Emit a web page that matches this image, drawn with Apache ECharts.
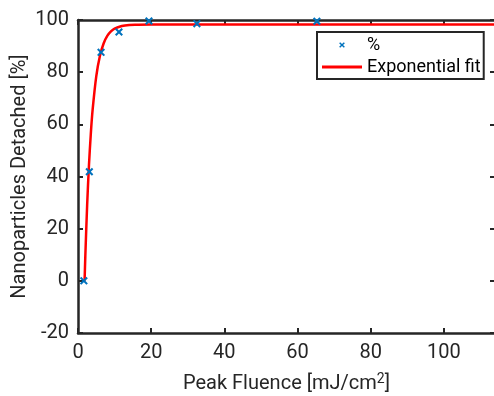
<!DOCTYPE html>
<html>
<head>
<meta charset="utf-8">
<script src="https://cdn.jsdelivr.net/npm/echarts@6/dist/echarts.min.js"></script>
<style>
  html, body { margin: 0; padding: 0; background: #fff; }
  #chart { width: 494px; height: 396px; }
</style>
</head>
<body>
<div id="chart"></div>
<script>
// measured points
const fluence = [1.6, 3.1, 6.3, 11.2, 19.4, 32.5, 65.3];
const detached = [0, 41.8, 87.6, 95.4, 99.6, 98.6, 99.5];

// exponential fit curve
const fitX = [1.8, 2, 2.5, 3, 3.5, 4, 5, 6, 7, 8, 9, 10, 12, 14, 16, 20, 30, 60, 90, 114];
const fitY = [0, 9.4, 29.0, 44.4, 56.3, 65.6, 78.5, 86.3, 91.0, 93.9, 95.6, 96.7, 97.7, 98.1, 98.2, 98.3, 98.3, 98.3, 98.3, 98.3];

const xTicks = [0, 20, 40, 60, 80, 100];
const yTicks = [-20, 0, 20, 40, 60, 80, 100];

const ink = "#262626";
const font = "Roboto";
const crossIcon = "path://M0,1.8 L1.8,0 L5,3.2 L8.2,0 L10,1.8 L6.8,5 L10,8.2 L8.2,10 L5,6.8 L1.8,10 L0,8.2 L3.2,5 Z";
// same cross, with empty margin so it draws smaller in the legend
const crossLegend = crossIcon + " M-2,-2 L-1.99,-2 L-2,-1.99 Z M12,12 L11.99,12 L12,11.99 Z";

const chart = echarts.init(document.getElementById("chart"), null, { renderer: "canvas" });

function makeAxis(extra) {
  return Object.assign({
    type: "value",
    axisLine: { show: true, onZero: false, lineStyle: { color: ink, width: 2.5 } },
    axisTick: { show: true, inside: true, length: 5, lineStyle: { color: ink, width: 2 } },
    splitLine: { show: false },
  }, extra);
}

const option = {
  animation: false,
  backgroundColor: "#fff",
  grid: { left: 78, top: 20, width: 417, height: 313, containLabel: false, outerBoundsMode: "none" },
  xAxis: [
    makeAxis({
      position: "bottom",
      min: 0,
      max: 114,
      interval: 20,
      axisLabel: {
        color: ink, fontFamily: font, fontSize: 20, margin: 10,
        formatter: (v) => (xTicks.includes(v) ? String(v) : ""),
      },
      name: "{a|Peak Fluence [mJ/cm}{s|2}{a|]}",
      nameLocation: "middle",
      nameGap: 39,
      nameMoveOverlap: false,
      nameTextStyle: {
        rich: {
          a: { color: ink, fontFamily: font, fontSize: 20 },
          s: { color: ink, fontFamily: font, fontSize: 14, verticalAlign: "top", padding: [0, 0, 10, 0] },
        },
      },
    }),
    makeAxis({
      position: "top",
      min: 0,
      max: 114,
      interval: 20,
      axisLabel: { show: false },
    }),
  ],
  yAxis: [
    makeAxis({
      position: "left",
      min: -20,
      max: 100,
      interval: 20,
      axisLabel: {
        color: ink, fontFamily: font, fontSize: 20, margin: 9,
        formatter: (v) => (yTicks.includes(v) ? String(v) : ""),
      },
      name: "Nanoparticles Detached [%]",
      nameLocation: "middle",
      nameGap: 48,
      nameMoveOverlap: false,
      nameTextStyle: { color: ink, fontFamily: font, fontSize: 20 },
    }),
    makeAxis({
      position: "right",
      min: -20,
      max: 100,
      interval: 20,
      axisLabel: { show: false },
    }),
  ],
  legend: {
    left: 317,
    top: 32,
    orient: "vertical",
    backgroundColor: "#fff",
    borderColor: ink,
    borderWidth: 2,
    borderRadius: 0,
    padding: [4, 3, 3, 5],
    itemGap: 4,
    itemWidth: 40,
    itemHeight: 8,
    itemTextGap: 3,
    textStyle: { color: "#000", fontFamily: font, fontSize: 18 },
    data: [
      { name: "%", icon: crossLegend },
      { name: "Exponential fit", icon: "path://M0,0 L40,0 L40,3 L0,3 Z" },
    ],
  },
  series: [
    {
      name: "Exponential fit",
      type: "line",
      data: fitX.map((x, i) => [x, fitY[i]]),
      smooth: 0.3,
      showSymbol: false,
      symbol: "none",
      lineStyle: { color: "#ff0000", width: 2.5 },
      itemStyle: { color: "#ff0000" },
      z: 3,
    },
    {
      name: "%",
      type: "scatter",
      data: fluence.map((x, i) => [x, detached[i]]),
      symbol: crossIcon,
      symbolKeepAspect: true,
      symbolSize: 8,
      itemStyle: { color: "#0072bd", opacity: 1 },
      z: 4,
    },
  ],
};

chart.setOption(option);
</script>
</body>
</html>
